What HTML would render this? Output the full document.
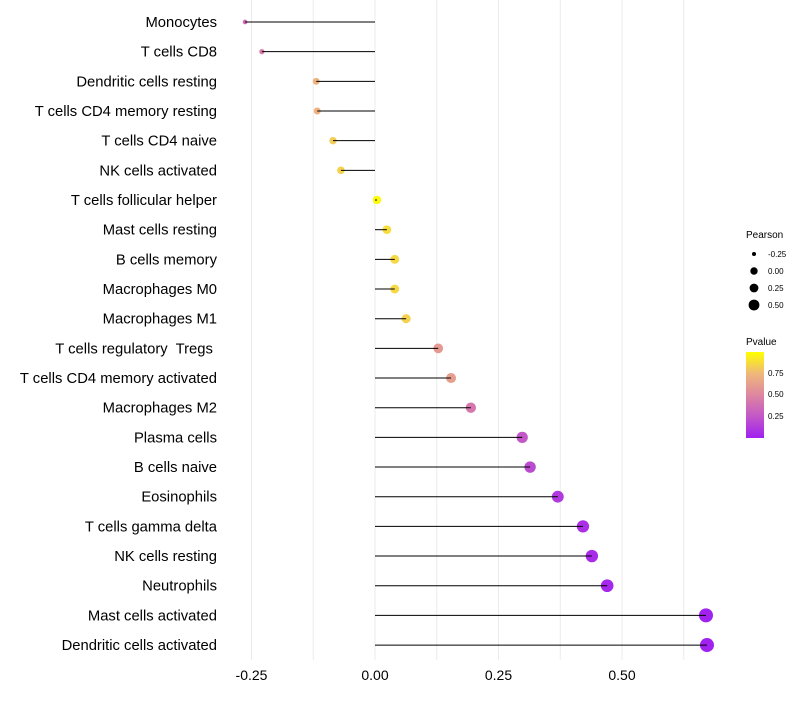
<!DOCTYPE html>
<html><head><meta charset="utf-8"><style>
body{margin:0;background:#fff;font-family:"Liberation Sans",sans-serif}
text{white-space:pre}
</style></head><body>
<svg id="c" width="800" height="700" xmlns="http://www.w3.org/2000/svg">
<defs><linearGradient id="pg" x1="0" y1="1" x2="0" y2="0">
<stop offset="0" stop-color="#a020f0"/><stop offset="0.25" stop-color="#c257c8"/><stop offset="0.5" stop-color="#de86a0"/><stop offset="0.75" stop-color="#efb87a"/><stop offset="1" stop-color="#ffff00"/>
</linearGradient></defs>
<g id="grid"></g><g id="marks"></g><g id="ylab"></g><g id="xlab"></g>
<g>
<text x="746" y="238" font-size="10">Pearson</text>
<circle cx="754" cy="254" r="2" fill="#000"/><text x="768" y="257" font-size="8">-0.25</text>
<circle cx="754" cy="271" r="3.7" fill="#000"/><text x="768" y="274" font-size="8">0.00</text>
<circle cx="754" cy="288" r="4.4" fill="#000"/><text x="768" y="291" font-size="8">0.25</text>
<circle cx="754" cy="305" r="5.4" fill="#000"/><text x="768" y="308" font-size="8">0.50</text>
</g>
<g>
<text x="746" y="345" font-size="10">Pvalue</text>
<rect x="746" y="352" width="18" height="86" fill="url(#pg)"/>
<text x="768" y="376" font-size="8">0.75</text>
<text x="768" y="397" font-size="8">0.50</text>
<text x="768" y="419" font-size="8">0.25</text>
</g>
</svg>
<script>
const categories=["Monocytes","T cells CD8","Dendritic cells resting","T cells CD4 memory resting","T cells CD4 naive","NK cells activated","T cells follicular helper","Mast cells resting","B cells memory","Macrophages M0","Macrophages M1","T cells regulatory  Tregs ","T cells CD4 memory activated","Macrophages M2","Plasma cells","B cells naive","Eosinophils","T cells gamma delta","NK cells resting","Neutrophils","Mast cells activated","Dendritic cells activated"];
const pearson=[-0.263,-0.229,-0.119,-0.117,-0.085,-0.069,0.004,0.024,0.040,0.040,0.063,0.128,0.154,0.194,0.298,0.314,0.370,0.421,0.439,0.470,0.670,0.672];
const pvalues=[0.35,0.45,0.72,0.72,0.82,0.84,0.99,0.88,0.86,0.86,0.84,0.6,0.62,0.42,0.25,0.2,0.12,0.07,0.05,0.03,0.01,0.01];
const xTicks=[-0.25,0,0.25,0.5];
const xTickLabels=["-0.25","0.00","0.25","0.50"];
const NS="http://www.w3.org/2000/svg";
function X(v){return 375+v*494;}
function Y(i){return 22+i*29.67;}
function R(v){return Math.sqrt(Math.max(2.5,7+47*(v+0.229)));}
function col(p){const s=[[0,[160,32,240]],[0.25,[194,87,200]],[0.5,[222,134,160]],[0.75,[239,184,122]],[1,[255,255,0]]];
for(let k=1;k<s.length;k++){if(p<=s[k][0]){const t=(p-s[k-1][0])/(s[k][0]-s[k-1][0]);const a=s[k-1][1],b=s[k][1];return`rgb(${a.map((x,j)=>Math.round(x+(b[j]-x)*t)).join(',')})`;}}return"rgb(255,255,0)";}
function mk(t,a,p){const e=document.createElementNS(NS,t);for(const k in a)e.setAttribute(k,a[k]);p.appendChild(e);return e;}
const g=document.getElementById('grid');
for(let v=-0.25;v<=0.63;v+=0.125){const l=mk('line',{x1:X(v),x2:X(v),y1:0,y2:660,stroke:'#ebebeb','stroke-width':1},g);

}
const m=document.getElementById('marks'),yl=document.getElementById('ylab'),xl=document.getElementById('xlab');
categories.forEach((c,i)=>{
const y=Y(i),v=pearson[i];
const ci=mk('circle',{cx:X(v),cy:y,r:R(v),fill:col(pvalues[i])},m);


const s=mk('line',{x1:X(0),x2:X(v),y1:y,y2:y,stroke:'#000','stroke-width':1},m);


const t=mk('text',{x:217,y:y+5,'text-anchor':'end','font-size':14.8,fill:'#000'},yl);t.textContent=c;


});
xTicks.forEach((v,i)=>{const t=mk('text',{x:X(v),y:680,'text-anchor':'middle','font-size':14,fill:'#000'},xl);t.textContent=xTickLabels[i];

});
</script>
</body></html>
